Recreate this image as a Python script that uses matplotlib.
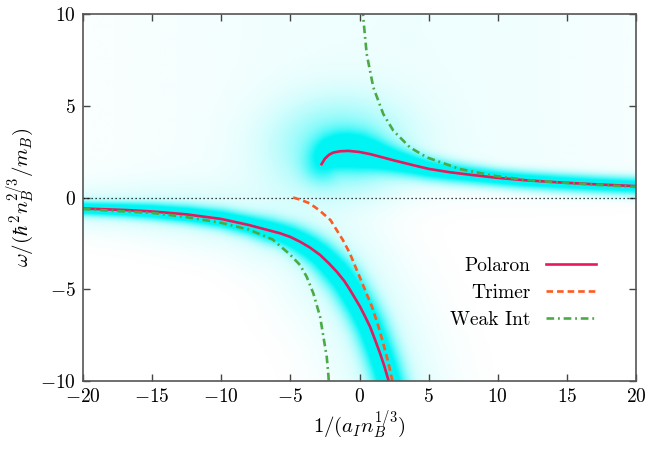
import numpy as np
import matplotlib
matplotlib.use("Agg")
import matplotlib.pyplot as plt
from matplotlib.colors import LinearSegmentedColormap

plt.rcParams['font.family'] = 'serif'
plt.rcParams['font.serif'] = ['cmr10', 'DejaVu Serif']
plt.rcParams['mathtext.fontset'] = 'cm'
plt.rcParams['axes.formatter.use_mathtext'] = True
plt.rcParams['axes.unicode_minus'] = True

# polaron branches (attractive / repulsive)
pol_lo_x = [-20, -17, -15, -12.5, -10, -8, -6.5, -5.75, -5, -4.3, -3.6, -2.85, -2.2, -1.65,
            -1.1, -0.68, 0.04, 0.4, 0.76, 1.1, 1.49, 1.8, 2.09, 2.3]
pol_lo_y = [-0.6, -0.68, -0.76, -0.92, -1.17, -1.5, -1.8, -1.95, -2.15, -2.41, -2.72, -3.13,
            -3.6, -4.04, -4.55, -5.04, -5.95, -6.48, -7.04, -7.7, -8.5, -9.2, -9.95, -10.5]
pol_hi_x = [-2.74, -2.5, -2.2, -1.9, -1.4, -0.8, 0, 0.8, 1.5, 2.5, 4, 5, 6.5, 8, 10, 12, 14.5,
            17, 20]
pol_hi_y = [1.82, 2.12, 2.33, 2.45, 2.52, 2.54, 2.48, 2.36, 2.22, 2.02, 1.74, 1.56, 1.38, 1.24,
            1.07, 0.94, 0.82, 0.72, 0.62]

# trimer
tri_x = [-4.8, -4.2, -3.6, -2.9, -2.1, -1.2, -0.7, -0.1, 0.4, 0.9, 1.3, 1.7, 2.1, 2.35, 2.45]
tri_y = [0.0, -0.14, -0.32, -0.7, -1.23, -2.32, -3.04, -4.13, -5.04, -5.95, -6.86, -7.9,
         -9.04, -9.9, -10.4]

# weak coupling result
weak_lo_x = [-20, -17.5, -15, -12.5, -10, -8, -6.3, -5.05, -4.3, -3.82, -3.34, -2.85, -2.61,
             -2.37, -2.25, -2.2]
weak_lo_y = [-0.63, -0.74, -0.84, -1.07, -1.38, -1.75, -2.28, -3.09, -3.68, -4.32, -5.22, -6.5,
             -7.59, -8.68, -9.68, -10.3]
weak_hi_x = [0.22, 0.28, 0.52, 1.0, 1.72, 2.45, 3.65, 4.86, 7.27, 9.68, 12.1, 14.5, 16.9, 20]
weak_hi_y = [10.3, 9.73, 7.82, 6.0, 4.55, 3.64, 2.73, 2.19, 1.55, 1.19, 0.95, 0.82, 0.70, 0.58]

# broadening (px) and weight of the spectral peak along each polaron branch
lo_width = [4.5, 5, 5.5, 6, 6.5, 7, 8, 8, 8.5, 9, 9.5, 10, 10.5, 11, 11, 11, 11, 11, 11, 11, 11,
            11, 11, 11]
hi_width = [12, 12, 12, 12, 12, 12, 12, 11, 10, 9, 8, 7.5, 7, 6.5, 6, 6, 6, 6, 6]
hi_weight = [0.45, 0.6, 0.75, 0.85, 0.95, 1, 1, 1, 1, 1, 1, 1, 1, 1, 1, 1, 1, 1, 1]

xlim = (-20, 20)
ylim = (-10, 10)
sx = 553 / 40.0   # px per unit
sy = 367 / 20.0


def densify(x, y, w, a, n=700):
    """ 沿曲线弧长重采样 """
    x = np.asarray(x, float)
    y = np.asarray(y, float)
    s = np.concatenate([[0], np.cumsum(np.hypot(np.diff(x) * sx, np.diff(y) * sy))])
    t = np.linspace(0, s[-1], n)
    return np.interp(t, s, x), np.interp(t, s, y), np.interp(t, s, w), np.interp(t, s, a)


def band(X, Y, x, y, w, a=None):
    if a is None:
        a = np.ones(len(x))
    out = np.zeros_like(X)
    cx, cy, cw, ca = densify(x, y, w, a)
    for px, py, c, amp in zip(cx, cy, cw, ca):
        d2 = ((X - px) * sx) ** 2 + ((Y - py) * sy) ** 2
        out = np.maximum(out, amp * np.exp(-d2 / (2 * c * c)))
    return out


gx = np.linspace(xlim[0], xlim[1], 420)
gy = np.linspace(ylim[0], ylim[1], 420)
X, Y = np.meshgrid(gx, gy)

A = band(X, Y, pol_lo_x, pol_lo_y, lo_width)
A = np.maximum(A, 0.95 * band(X, Y, pol_hi_x, pol_hi_y, hi_width, hi_weight))
# broad incoherent background
A += 0.12 * band(X, Y, pol_lo_x, pol_lo_y, np.array(lo_width) * 3.5)
A += 0.38 * np.exp(-((X + 1.5) / 4.5) ** 2 - ((Y - 2.8) / 2.4) ** 2)
A += 0.05 * (1 / (1 + np.exp(-Y / 0.4))) * np.exp(-((X - 3) / 22) ** 2)

cmap = LinearSegmentedColormap.from_list('wc', [(1, 1, 1), (0.0, 0.96, 0.96)])

fig = plt.figure(figsize=(6.46, 4.51), dpi=100)
ax = fig.add_axes([83 / 646, 1 - 381 / 451, 553 / 646, 367 / 451])
ax.imshow(A, extent=(xlim[0], xlim[1], ylim[0], ylim[1]), origin='lower', aspect='auto',
          cmap=cmap, vmin=0, vmax=0.75, interpolation='bilinear')

ax.axhline(0, color='black', lw=0.9, ls=(0, (1, 2.2)))

c_pol = '#e8185c'
c_tri = '#ff5a1f'
c_weak = '#4caa46'
ax.plot(pol_lo_x, pol_lo_y, color=c_pol, lw=1.9, label='Polaron')
ax.plot(pol_hi_x, pol_hi_y, color=c_pol, lw=1.9)
ax.plot(tri_x, tri_y, color=c_tri, lw=1.9, dashes=(2.5, 1.5), label='Trimer')
ax.plot(weak_lo_x, weak_lo_y, color=c_weak, lw=1.9, dashes=(2.9, 1.45, 0.7, 1.45),
        label='Weak Int')
ax.plot(weak_hi_x, weak_hi_y, color=c_weak, lw=1.9, dashes=(2.9, 1.45, 0.7, 1.45))

ax.set_xlim(*xlim)
ax.set_ylim(*ylim)
ax.set_xticks(np.arange(-20, 21, 5))
ax.set_yticks(np.arange(-10, 11, 5))
ax.tick_params(direction='in', top=True, right=True, length=5, width=1, labelsize=14,
               color='#444444', pad=5)
for sp in ax.spines.values():
    sp.set_color('#555555')
    sp.set_linewidth(1.2)

ax.set_xlabel(r'$1/(a_I n_B^{1/3})$', fontsize=15, labelpad=2)
ax.set_ylabel(r'$\omega/(\hbar^2 n_B^{2/3}/m_B)$', fontsize=15, labelpad=2)

ax.legend(loc='center right', bbox_to_anchor=(0.928, 0.24), markerfirst=False, frameon=False,
          fontsize=14, handlelength=2.6, handletextpad=0.8, labelspacing=0.45,
          borderaxespad=0, borderpad=0)

fig.savefig('out.png', dpi=100)
